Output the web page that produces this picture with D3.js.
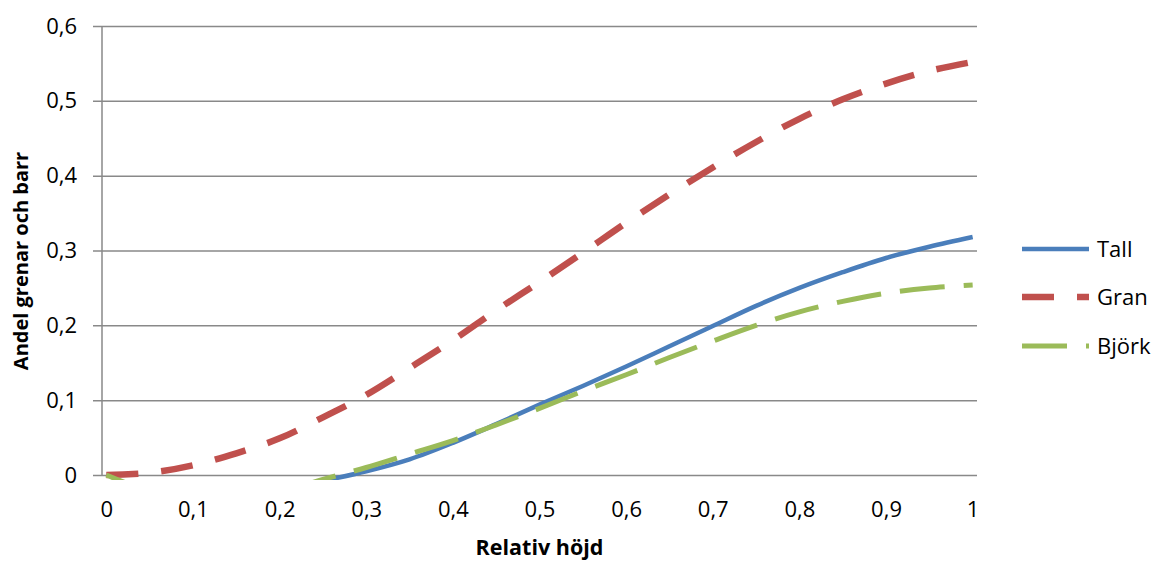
<!DOCTYPE html>
<html>
<head>
<meta charset="utf-8">
<script src="https://cdnjs.cloudflare.com/ajax/libs/d3/7.8.5/d3.min.js"></script>
<style>
  body { margin: 0; background: #fff; }
  text { font-family: "Open Sans", sans-serif; fill: #000; }
</style>
</head>
<body>
<div id="chart"></div>
<script>
// relativ höjd (kategorier)
var heights = [0, 0.05, 0.1, 0.15, 0.2, 0.25, 0.3, 0.35, 0.4, 0.45, 0.5,
               0.55, 0.6, 0.65, 0.7, 0.75, 0.8, 0.85, 0.9, 0.95, 1];
// andel grenar och barr per trädslag
var tall  = [null, null, null, null, -0.020, -0.008, 0.005, 0.021, 0.043, 0.068, 0.094,
             0.119, 0.145, 0.172, 0.199, 0.226, 0.250, 0.271, 0.290, 0.305, 0.318];
var gran  = [0, 0.003, 0.013, 0.029, 0.049, 0.077, 0.107, 0.143, 0.180, 0.220, 0.258,
             0.297, 0.337, 0.375, 0.411, 0.445, 0.476, 0.502, 0.523, 0.540, 0.552];
var bjork = [0, -0.022, -0.036, -0.036, -0.023, -0.006, 0.010, 0.028, 0.046, 0.067, 0.089,
             0.112, 0.134, 0.157, 0.179, 0.200, 0.218, 0.232, 0.243, 0.250, 0.254];

var xTicks = [0, 0.1, 0.2, 0.3, 0.4, 0.5, 0.6, 0.7, 0.8, 0.9, 1];
var yTicks = [0, 0.1, 0.2, 0.3, 0.4, 0.5, 0.6];

var width = 1154;
var height = 561;
var plot = { left: 102, right: 977, top: 26, bottom: 475 };

var sv = d3.formatLocale({ decimal: ",", thousands: " ", grouping: [3], currency: ["", " kr"] });
var fmt = sv.format(".1~f");

var svg = d3.select("#chart").append("svg")
  .attr("width", width)
  .attr("height", height);

// 101 kategorier, axeln mellan skalstrecken -> halv kategori marginal
var x = d3.scaleLinear().domain([-0.005, 1.005]).range([plot.left, plot.right]);
var y = d3.scaleLinear().domain([0, 0.6]).range([plot.bottom, plot.top]);

// rutnät + y-etiketter
var yAxis = svg.append("g")
  .attr("transform", "translate(93,0)")
  .call(d3.axisLeft(y).tickValues(yTicks).tickFormat(fmt)
    .tickSize(-(plot.right - 93)).tickPadding(16));
yAxis.select(".domain").remove();
yAxis.selectAll(".tick line").attr("stroke", "#898989").attr("stroke-width", 1.5);
yAxis.selectAll(".tick text").style("font-size", "22px");

// y-axelns linje
svg.append("line")
  .attr("x1", plot.left).attr("x2", plot.left)
  .attr("y1", plot.top).attr("y2", plot.bottom)
  .attr("stroke", "#898989").attr("stroke-width", 1.5);

// x-etiketter
var xAxis = svg.append("g")
  .attr("transform", "translate(0," + plot.bottom + ")")
  .call(d3.axisBottom(x).tickValues(xTicks).tickFormat(fmt).tickSize(0).tickPadding(26));
xAxis.select(".domain").remove();
xAxis.selectAll(".tick text").style("font-size", "22px");

// axeltitlar
svg.append("text")
  .attr("x", (plot.left + plot.right) / 2)
  .attr("y", 555)
  .attr("text-anchor", "middle")
  .style("font-size", "21.5px")
  .style("font-weight", "bold")
  .text("Relativ höjd");

svg.append("text")
  .attr("transform", "translate(28," + 261 + ") rotate(-90)")
  .attr("text-anchor", "middle")
  .style("font-size", "20px")
  .style("font-weight", "bold")
  .text("Andel grenar och barr");

// klippning till plottytan
svg.append("defs").append("clipPath").attr("id", "clip")
  .append("rect")
  .attr("x", plot.left).attr("y", plot.top - 10)
  .attr("width", plot.right - plot.left).attr("height", 480 - (plot.top - 10));

var series = [
  { name: "Tall",  values: tall,  color: "#4A7EBB", width: 4.5, dash: null },
  { name: "Gran",  values: gran,  color: "#C0504D", width: 6.5, dash: "32,23" },
  { name: "Björk", values: bjork, color: "#9BBB59", width: 5,   dash: "45,19" }
];

var line = d3.line()
  .defined(function (d) { return d.v !== null; })
  .x(function (d) { return x(d.h); })
  .y(function (d) { return y(d.v); })
  .curve(d3.curveCatmullRom.alpha(0.5));

var g = svg.append("g").attr("clip-path", "url(#clip)");

series.forEach(function (s) {
  var pts = heights.map(function (h, i) { return { h: h, v: s.values[i] }; });
  g.append("path")
    .datum(pts)
    .attr("fill", "none")
    .attr("stroke", s.color)
    .attr("stroke-width", s.width)
    .attr("stroke-dasharray", s.dash)
    .attr("d", line);
});

// förklaring
var legendY = [249, 297, 346];
var legend = svg.append("g");
series.forEach(function (s, i) {
  legend.append("line")
    .attr("x1", 1022).attr("x2", 1089)
    .attr("y1", legendY[i]).attr("y2", legendY[i])
    .attr("stroke", s.color)
    .attr("stroke-width", s.width)
    .attr("stroke-dasharray", s.dash);
  legend.append("text")
    .attr("x", 1097)
    .attr("y", legendY[i])
    .attr("dy", "0.35em")
    .style("font-size", "22px")
    .text(s.name);
});
</script>
</body>
</html>
